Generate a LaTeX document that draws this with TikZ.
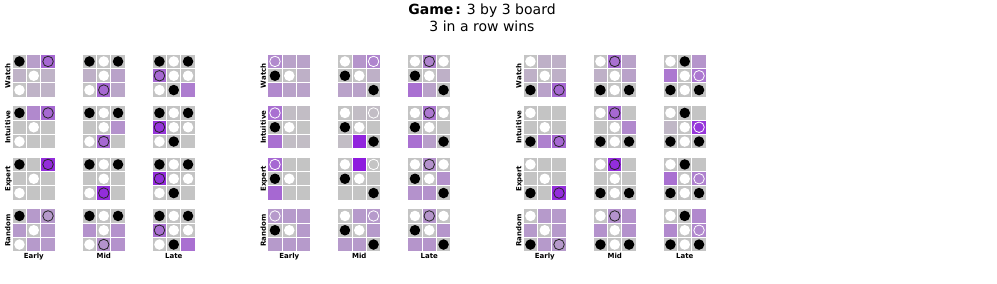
\documentclass[tikz,border=0pt]{standalone}
\usepackage{fontspec}
\setmainfont{DejaVu Sans}
\definecolor{cellgray}{RGB}{196,196,196}
\definecolor{movepurple}{RGB}{142,28,222}

\begin{document}
\begin{tikzpicture}[
    x=1pt, y=-1pt,
    cell/.style={rectangle, draw=white, line width=1pt, minimum size=14.3pt, inner sep=0pt},
    piece/.style={circle, minimum size=10.5pt, inner sep=0pt, line width=0.8pt},
    pc n/.style={},
    pc b/.style={fill=black},
    pc w/.style={fill=white},
    pc r/.style={draw=black!85},
    pc o/.style={draw=white},
    lbl/.style={font=\bfseries\fontsize{7}{8}\selectfont, inner sep=0pt}
]
    \useasboundingbox (0,0) rectangle (997,284);

    % Título
    \node[font=\fontsize{14}{16.5}\selectfont, align=center] (title) at (482,18)
        {\textbf{Game\hspace{2pt}:} 3 by 3 board\\3 in a row wins};

    % Tableros: grupo / fila / columna / casillas (valor/pieza)
    \foreach \g/\r/\c/\cells in {
        0/0/0/{0/b,22/n,55/r,10/n,0/w,10/n,0/w,10/n,10/n},
        0/0/1/{0/b,0/w,0/b,12/n,0/w,20/n,0/w,55/r,18/n},
        0/0/2/{0/b,0/w,0/b,55/r,0/w,0/w,0/w,0/b,42/n},
        0/1/0/{0/b,35/n,55/r,0/n,0/w,0/n,0/w,0/n,0/n},
        0/1/1/{0/b,0/w,0/b,0/n,0/w,30/n,0/w,55/r,0/n},
        0/1/2/{0/b,0/w,0/b,85/r,0/w,0/w,0/w,0/b,0/n},
        0/2/0/{0/b,0/n,90/r,0/n,0/w,0/n,0/w,0/n,0/n},
        0/2/1/{0/b,0/w,0/b,0/n,0/w,0/n,0/w,90/r,0/n},
        0/2/2/{0/b,0/w,0/b,90/r,0/w,0/w,0/w,0/b,0/n},
        0/3/0/{0/b,25/n,25/r,25/n,0/w,25/n,0/w,25/n,25/n},
        0/3/1/{0/b,0/w,0/b,30/n,0/w,30/n,0/w,30/r,30/n},
        0/3/2/{0/b,0/w,0/b,50/r,0/w,0/w,0/w,0/b,50/n},
        1/0/0/{35/o,20/n,20/n,0/b,0/w,12/n,35/n,20/n,20/n},
        1/0/1/{0/w,28/n,38/o,0/b,0/w,12/n,20/n,20/n,0/b},
        1/0/2/{0/w,38/r,0/w,0/b,0/w,12/n,50/n,20/n,0/b},
        1/1/0/{50/o,4/n,4/n,0/b,0/w,0/n,50/n,4/n,4/n},
        1/1/1/{0/w,4/n,4/o,0/b,0/w,0/n,4/n,95/n,0/b},
        1/1/2/{0/w,45/r,0/w,0/b,0/w,0/n,50/n,22/n,0/b},
        1/2/0/{55/o,0/n,0/n,0/b,0/w,0/n,55/n,0/n,0/n},
        1/2/1/{0/w,100/n,0/o,0/b,0/w,0/n,0/n,0/n,0/b},
        1/2/2/{0/w,30/r,0/w,0/b,0/w,30/n,30/n,30/n,0/b},
        1/3/0/{25/o,25/n,25/n,0/b,0/w,25/n,25/n,25/n,25/n},
        1/3/1/{0/w,25/n,25/o,0/b,0/w,25/n,25/n,25/n,0/b},
        1/3/2/{0/w,28/r,0/w,0/b,0/w,28/n,28/n,28/n,0/b},
        2/0/0/{0/w,12/n,12/n,12/n,0/w,12/n,0/b,20/n,55/r},
        2/0/1/{0/w,50/r,20/n,12/n,0/w,20/n,0/b,0/w,0/b},
        2/0/2/{0/w,0/b,28/n,45/n,0/w,45/o,0/b,0/w,0/b},
        2/1/0/{0/w,0/n,0/n,0/n,0/w,0/n,0/b,40/n,55/r},
        2/1/1/{0/w,55/r,0/n,0/n,0/w,35/n,0/b,0/w,0/b},
        2/1/2/{0/w,0/b,0/n,8/n,0/w,85/o,0/b,0/w,0/b},
        2/2/0/{0/w,0/n,0/n,0/n,0/w,0/n,0/b,0/n,90/r},
        2/2/1/{0/w,90/r,0/n,0/n,0/w,0/n,0/b,0/w,0/b},
        2/2/2/{0/w,0/b,0/n,50/n,0/w,40/o,0/b,0/w,0/b},
        2/3/0/{0/w,25/n,25/n,25/n,0/w,25/n,0/b,25/n,25/r},
        2/3/1/{0/w,30/r,30/n,30/n,0/w,30/n,0/b,0/w,0/b},
        2/3/2/{0/w,0/b,35/n,35/n,0/w,35/o,0/b,0/w,0/b}} {
        \foreach \v/\k [count=\i from 0] in \cells {
            \pgfmathtruncatemacro{\cc}{mod(\i,3)}
            \pgfmathtruncatemacro{\rr}{div(\i,3)}
            \node[cell, fill=movepurple!\v!cellgray] (c\g\r\c\i)
                at ({19.45+255.5*\g+70*\c+14.3*\cc}, {61.45+51.5*\r+14.3*\rr}) {};
            \node[piece, pc \k] (p\g\r\c\i) at (c\g\r\c\i.center) {};
        }
    }

    % Etiquetas de filas y columnas
    \foreach \g in {0,1,2} {
        \foreach \name [count=\r from 0] in {Watch, Intuitive, Expert, Random}
            \node[lbl, rotate=90, anchor=base] (row\g\r) at ({10.3+255.5*\g}, {75.8+51.5*\r}) {\name};
        \foreach \name [count=\c from 0] in {Early, Mid, Late}
            \node[lbl, anchor=base] (col\g\c) at ({33.8+255.5*\g+70*\c}, 258) {\name};
    }
\end{tikzpicture}
\end{document}
